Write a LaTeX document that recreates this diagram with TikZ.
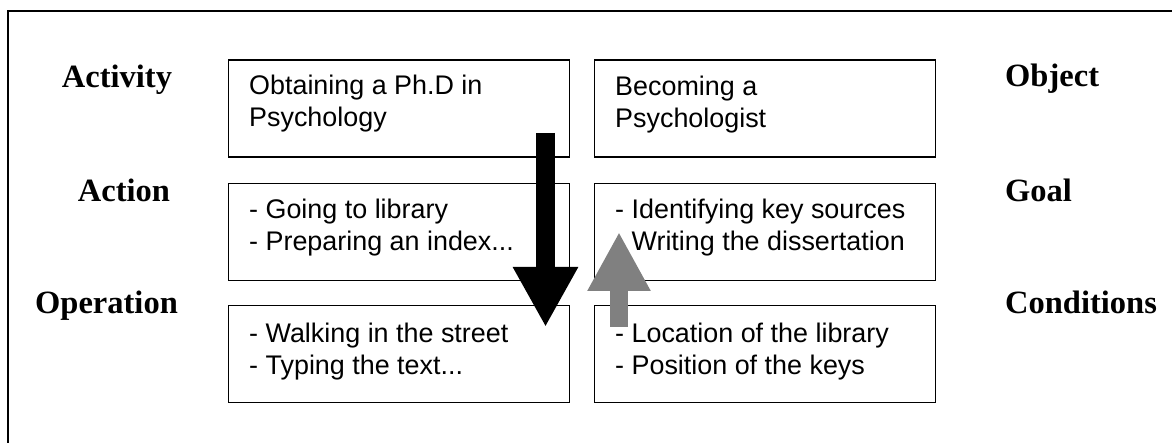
\documentclass[tikz,border=0pt]{standalone}
\usepackage{fontspec}
\setmainfont{Liberation Serif}
\newfontfamily\boxfont{Liberation Sans}
\usetikzlibrary{arrows.meta}
\usetikzlibrary{positioning}
\newcommand{\twolines}[2]{\vtop{\hbox{#1}\hbox{#2}}}

\begin{document}
\begin{tikzpicture}[x=1pt,y=-1pt,
  box/.style={draw, line width=1.3pt, minimum width=341pt, minimum height=97pt, inner sep=0pt, anchor=north west},
  txt/.style={inner sep=0pt, anchor=base west, font=\boxfont\fontsize{26.9}{32}\selectfont},
  lbl/.style={inner sep=0pt, anchor=base, font=\fontsize{32.5}{38}\selectfont\bfseries}]
\useasboundingbox (0,0) rectangle (1172,443);
\draw  [line width=2pt] (1180,11) -- (8,11) -- (8,450);

\node [box] (act) at (228,59.5) {};
\node [box, below=25pt of act] (acn) {};
\node [box, below=24pt of acn] (ope) {};
\node [box] (obj) at (594,59.5) {};
\node [box, below=25pt of obj] (goa) {};
\node [box, below=24pt of goa] (con) {};

\node [txt] (actT) at ([shift={(21,35.5)}]act.north west) {\twolines{Obtaining a Ph.D in}{Psychology}};
\node [txt] (acnT) at ([shift={(21,36)}]acn.north west) {\twolines{- Going to library}{- Preparing an index...}};
\node [txt] (opeT) at ([shift={(21,37)}]ope.north west) {\twolines{- Walking in the street}{- Typing the text...}};
\node [txt] (objT) at ([shift={(21,36)}]obj.north west) {\twolines{Becoming a}{Psychologist}};
\node [txt] (goaT) at ([shift={(21,36)}]goa.north west) {\twolines{- Identifying key sources}{- Writing the dissertation}};
\node [txt] (conT) at ([shift={(21,37)}]con.north west) {\twolines{- Location of the library}{- Position of the keys}};

\node [lbl] (lact) at (117,88) {Activity};
\node [lbl] (lacn) at (124,202) {Action};
\node [lbl] (lope) at (106.5,314) {Operation};
\node [lbl, anchor=base west] (lobj) at (1005,87) {Object};
\node [lbl, anchor=base west] (lgoa) at (1005,202) {Goal};
\node [lbl, anchor=base west] (lcon) at (1005,314) {Conditions};

% down and up arrows
\coordinate (dnS) at (545.5,133);
\coordinate (dnE) at (545.5,327);
\coordinate (upS) at (619,327);
\coordinate (upE) at (619,232);
\draw  [line width=19pt, -{Triangle[width=61pt,length=60pt]}] (dnS) -- (dnE);
\draw  [line width=18pt, gray, -{Triangle[width=59pt,length=59pt]}] (upS) -- (upE);
\end{tikzpicture}
\end{document}
